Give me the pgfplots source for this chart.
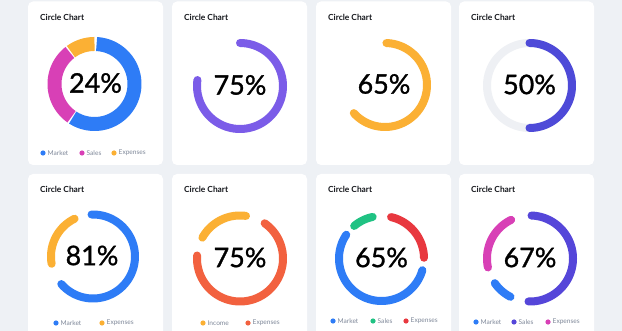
\documentclass[border=0pt]{standalone}
\usepackage{fontspec}
\setmainfont{Lato}
\newfontfamily\pctfont[FakeBold=1.2]{Lato}
\usepackage{pgfplots}
\pgfplotsset{compat=1.18}
\definecolor{bg}{HTML}{EEF1F5}
\definecolor{cblue}{HTML}{2E7CF6}
\definecolor{cmag}{HTML}{D840B6}
\definecolor{corange}{HTML}{FBB034}
\definecolor{cpurple}{HTML}{7B5CE8}
\definecolor{cindigo}{HTML}{4E4AD8}
\definecolor{cgrayring}{HTML}{EEF0F4}
\definecolor{cred}{HTML}{F2613F}
\definecolor{cgreen}{HTML}{20C283}
\definecolor{cred2}{HTML}{E8383F}
\definecolor{csales}{HTML}{5546D9}
\definecolor{legtext}{HTML}{7F8899}
\definecolor{titletext}{HTML}{15171C}
% arc segment: cx, cy, radius, start angle, end angle, style
\newcommand{\seg}[6]{\addplot[#6, domain=#4:#5, samples=72, variable=\t] ({#1+#3*cos(\t)},{#2+#3*sin(\t)});}
\newcommand{\leg}[4]{\fill[#3] (#1,#2) circle[radius=2.6bp]; \node[anchor=west, inner sep=0pt, text=legtext, font=\fontsize{6.6}{6.6}\selectfont] at (#1+4.5,#2) {#4};}
\newcommand{\card}[2]{\fill[white, rounded corners=5bp] (#1,166) rectangle (#2,329.5);
  \fill[white, rounded corners=5bp] (#1,0) -- (#1,157) -- (#2,157) -- (#2,0);}
\newcommand{\ttl}[2]{\node[anchor=base west, inner sep=0pt, text=titletext, font=\bfseries\fontsize{8.4}{8.4}\selectfont] at (#1,#2) {Circle Chart};}
\newcommand{\pct}[3]{\node[text=black, inner sep=0pt, font=\pctfont\fontsize{27}{27}\selectfont] at (#1,#2) {#3\%};}
\begin{document}
\begin{tikzpicture}
\begin{axis}[width=622bp,height=331bp,scale only axis,xmin=0,xmax=622,ymin=0,ymax=331,
  axis lines=none,ticks=none,clip=false]
\fill[bg] (0,0) rectangle (622,331);
\card{28}{163}
\card{172}{307}
\card{316}{451}
\card{459}{594}
\ttl{40}{310}\ttl{184}{310}\ttl{328}{310}\ttl{471}{310}
\ttl{40}{138}\ttl{184}{138}\ttl{328}{138}\ttl{471}{138}
% D1
\seg{94.5}{247}{40}{-123}{87}{cblue, line width=14bp, line cap=butt}
\seg{94.5}{247}{40}{128}{235}{cmag, line width=14bp, line cap=butt}
\seg{94.5}{247}{40}{90}{126}{corange, line width=14bp, line cap=butt}
% D2
\seg{240}{245}{43}{-188}{90}{cpurple, line width=8bp, line cap=round}
% D3
\seg{385}{246}{42}{-138}{88}{corange, line width=8bp, line cap=round}
% D4
\seg{529.5}{245.5}{42.5}{-180}{180}{cgrayring, line width=8bp}
\seg{529.5}{245.5}{42.5}{-90}{90}{cindigo, line width=8bp, line cap=round}
% D5
\seg{93}{74.5}{42}{-139}{92}{cblue, line width=8bp, line cap=round}
\seg{93}{74.5}{42}{116}{190}{corange, line width=8bp, line cap=round}
% D6
\seg{240}{72.5}{43}{82}{151}{corange, line width=8bp, line cap=round}
\seg{240}{72.5}{43}{-184}{55}{cred, line width=8bp, line cap=round}
% D7
\seg{381.5}{72.5}{42.5}{146}{344}{cblue, line width=8bp, line cap=round}
\seg{381.5}{72.5}{42.5}{102}{130}{cgreen, line width=8bp, line cap=round}
\seg{381.5}{72.5}{42.5}{1}{77}{cred2, line width=8bp, line cap=round}
% D8
\seg{530}{72.5}{43}{-92}{88}{csales, line width=8bp, line cap=round}
\seg{530}{72.5}{43}{215}{243}{cblue, line width=8bp, line cap=round}
\seg{530}{72.5}{43}{116}{192}{cmag, line width=8bp, line cap=round}
% percentages
\pct{95.5}{248}{24}
\pct{240}{246}{75}
\pct{384}{247}{65}
\pct{529.5}{246.5}{50}
\pct{92}{75.5}{81}
\pct{240}{73.5}{75}
\pct{381.5}{73.5}{65}
\pct{530}{73.5}{67}
% legends
\leg{43}{178}{cblue}{Market}
\leg{82}{178}{cmag}{Sales}
\leg{114}{178}{corange}{Expenses}
\leg{56}{8}{cblue}{Market}
\leg{102}{8}{corange}{Expenses}
\leg{203}{8}{corange}{Income}
\leg{248}{8}{cred}{Expenses}
\leg{333}{10}{cblue}{Market}
\leg{373}{10}{cgreen}{Sales}
\leg{406}{10}{cred2}{Expenses}
\leg{476}{9}{cblue}{Market}
\leg{514}{9}{csales}{Sales}
\leg{548}{9}{cmag}{Expenses}
\end{axis}
\end{tikzpicture}
\end{document}
